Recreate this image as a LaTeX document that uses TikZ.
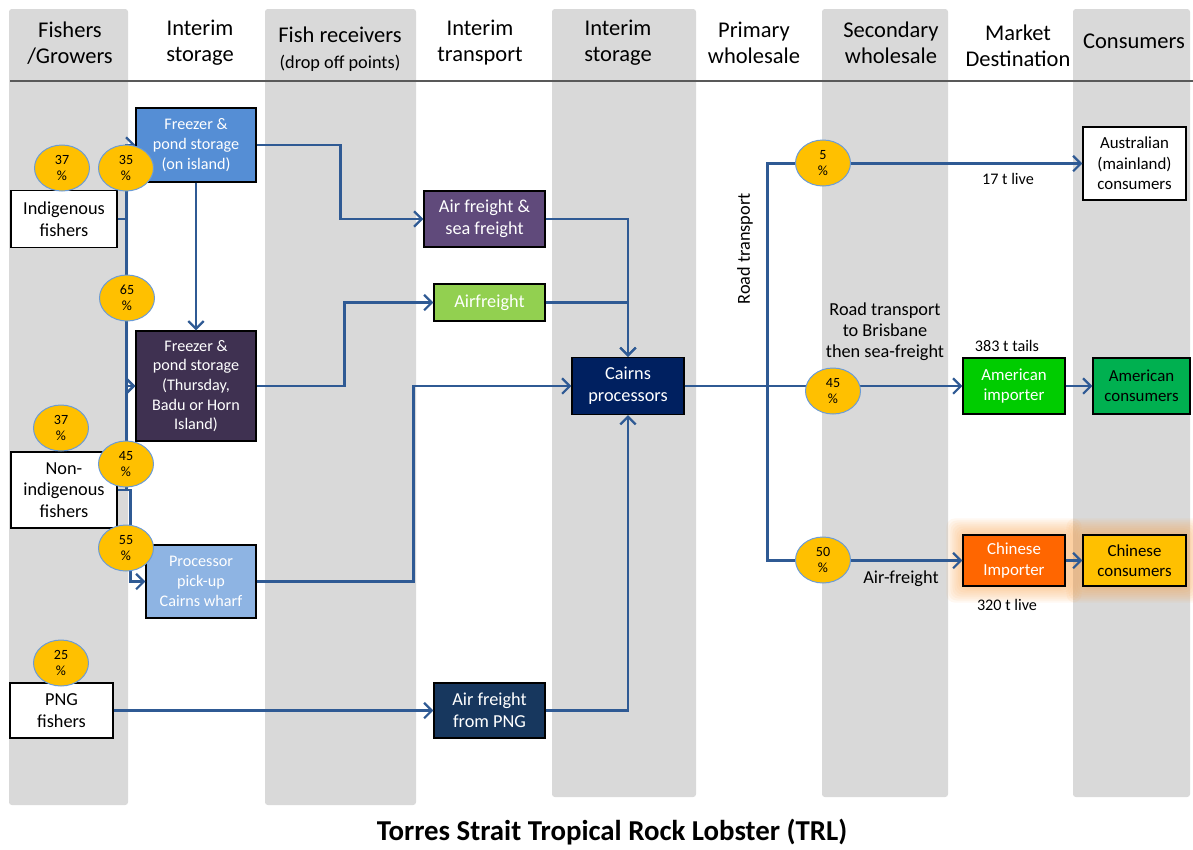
\documentclass[tikz,border=0pt]{standalone}
\usepackage{fontspec}
\setmainfont{Carlito}
\usepackage{tikz}
\definecolor{bandgray}{HTML}{D9D9D9}
\definecolor{flowblue}{HTML}{2F5A94}
\definecolor{pctyellow}{HTML}{FFC000}
\definecolor{pctline}{HTML}{6A9BD8}
\definecolor{islandblue}{HTML}{558ED5}
\definecolor{thursdark}{HTML}{3F3151}
\definecolor{wharfblue}{HTML}{8EB4E3}
\definecolor{seapurple}{HTML}{604A7B}
\definecolor{airgreen}{HTML}{92D050}
\definecolor{pngnavy}{HTML}{17375E}
\definecolor{cairnsnavy}{HTML}{002060}
\definecolor{usimport}{HTML}{00CC00}
\definecolor{usgreen}{HTML}{00B050}
\definecolor{cnorange}{HTML}{FF6600}
\definecolor{glow}{HTML}{F9A24B}
\usetikzlibrary{shapes.geometric, arrows.meta, calc, backgrounds}

\begin{document}
\begin{tikzpicture}[
    x=0.025cm, y=-0.025cm,
    band/.style={fill=bandgray, rounded corners=2pt},
    colhead/.style={align=center, font=\fontsize{16}{18.5}\selectfont},
    fisher/.style={rectangle, draw, fill=white, align=center, inner sep=0pt, line width=0.8pt, font=\fontsize{13}{15.5}\selectfont},
    store/.style={rectangle, draw, align=center, inner sep=0pt, line width=0.8pt, text=white, font=\fontsize{11.5}{14}\selectfont},
    market/.style={rectangle, draw, align=center, inner sep=0pt, line width=0.8pt, font=\fontsize{12}{14.5}\selectfont},
    pct/.style={ellipse, draw=pctline, line width=0.7pt, fill=pctyellow, minimum width=1.375cm, minimum height=1.15cm, inner sep=0pt, align=center, font=\fontsize{10}{11.5}\selectfont},
    flow/.style={draw=flowblue, line width=1.9pt, -{Straight Barb[length=5.5pt,width=11pt,line width=1.6pt]}},
    note/.style={align=center, font=\fontsize{13}{15}\selectfont},
    tonnes/.style={font=\fontsize{11.5}{14}\selectfont}
]
\useasboundingbox (0,0) rectangle (1193,850);

% swim lanes
\begin{scope}[on background layer]
\fill[band] (9,9) rectangle (128,805);
\fill[band] (265,9) rectangle (416,805);
\fill[band] (552,9) rectangle (696,797);
\fill[band] (822,9) rectangle (948,797);
\fill[band] (1073,9) rectangle (1190,797);
\end{scope}

% column headings
\node[colhead] (hfish) at (70,43) {Fishers\\/Growers};
\node[colhead] (hstore) at (200,43) {Interim\\storage};
\node[colhead] (hrecv) at (340,49) {Fish receivers\\{\fontsize{13}{15}\selectfont (drop off points)}};
\node[colhead] (htrans) at (480,43) {Interim\\transport};
\node[colhead] (hstore2) at (618,43) {Interim\\storage};
\node[colhead] (hprim) at (754,43) {Primary\\wholesale};
\node[colhead] (hsec) at (891,43) {Secondary\\wholesale};
\node[colhead] (hdest) at (1018,46) {Market\\Destination};
\node[colhead] (hcons) at (1134,41) {Consumers};
\draw[black!65, line width=1.1pt] (10,81) -- (1193,81);

% fishers
\node[fisher, minimum width=2.65cm, minimum height=1.425cm] (indig) at (64,219) {Indigenous\\fishers};
\node[fisher, minimum width=2.65cm, minimum height=1.9cm] (nonind) at (64,490) {Non-\\indigenous\\fishers};
\node[fisher, minimum width=2.575cm, minimum height=1.375cm] (png) at (61.5,710.5) {PNG\\fishers};

% storage and transport
\node[store, fill=islandblue, minimum width=3cm, minimum height=1.85cm] (frz1) at (196,145) {Freezer \&\\pond storage\\(on island)};
\node[store, fill=thursdark, minimum width=3cm, minimum height=2.75cm] (thurs) at (196,386) {Freezer \&\\pond storage\\(Thursday,\\Badu or Horn\\Island)};
\node[store, fill=wharfblue, minimum width=2.75cm, minimum height=1.825cm] (pickup) at (201,581.5) {Processor\\pick-up\\Cairns wharf};
\node[store, fill=seapurple, minimum width=3.025cm, minimum height=1.4cm, font=\fontsize{13}{15.5}\selectfont] (airsea) at (484.5,219) {Air freight \&\\sea freight};
\node[store, fill=airgreen, minimum width=2.775cm, minimum height=0.925cm, font=\fontsize{13}{15.5}\selectfont] (airfrt) at (489.5,302.5) {Airfreight};
\node[store, fill=pngnavy, minimum width=2.775cm, minimum height=1.375cm, font=\fontsize{13}{15.5}\selectfont] (airpng) at (489.5,710.5) {Air freight\\from PNG};
\node[store, fill=cairnsnavy, minimum width=2.8cm, minimum height=1.425cm, font=\fontsize{13}{15.5}\selectfont] (cairns) at (628,386) {Cairns\\processors};

% markets
\node[market, fill=white, minimum width=2.575cm, minimum height=1.825cm] (auscons) at (1134.5,163.5) {Australian\\(mainland)\\consumers};
\node[market, fill=usimport, text=white, minimum width=2.55cm, minimum height=1.4cm] (amimp) at (1014,386) {American\\importer};
\node[market, fill=usgreen, minimum width=2.425cm, minimum height=1.4cm] (amcons) at (1141.5,386) {American\\consumers};
\node[market, fill=cnorange, text=white, minimum width=2.55cm, minimum height=1.275cm] (chimp) at (1014,560.5) {Chinese\\Importer};
\node[market, fill=pctyellow, minimum width=2.575cm, minimum height=1.275cm] (chcons) at (1134.5,560.5) {Chinese\\consumers};

% glow round the Chinese boxes
\begin{scope}[on background layer]
\foreach \g in {2,4,...,16} {
  \fill[glow, opacity=0.08, rounded corners=6pt] ($(chimp.south west)+(-\g,\g)$) rectangle ($(chimp.north east)+(\g,-\g)$);
  \fill[glow, opacity=0.08, rounded corners=6pt] ($(chcons.south west)+(-\g,\g)$) rectangle ($(chcons.north east)+(\g,-\g)$);
}
\end{scope}

% connectors
\draw[flow] (indig.east) -- ++(9,0) |- (frz1.west);
\draw[flow] (indig.east) -- ++(9,0) |- (thurs.west);
\draw[flow] (nonind.east) -- ++(9,0) |- (thurs.west);
\draw[flow] (nonind.east) -- ++(13,0) |- (pickup.west);
\draw[flow] (png.east) -- (airpng.west);
\draw[flow] (frz1) -- (thurs);
\draw[flow] (frz1.east) -- ++(84,0) |- (airsea.west);
\draw[flow] (thurs.east) -- ++(88,0) |- (airfrt.west);
\draw[flow] (pickup.east) -- ++(157,0) |- (cairns.west);
\draw[flow] (airsea.east) -| (cairns.north);
\draw[flow] (airfrt.east) -| (cairns.north);
\draw[flow] (airpng.east) -| (cairns.south);
\draw[flow] (cairns.east) -- (amimp.west);
\draw[flow] (cairns.east) -- ++(83,0) |- (auscons.west);
\draw[flow] (cairns.east) -- ++(83,0) |- (chimp.west);
\draw[flow] (amimp) -- (amcons);
\draw[flow] (chimp) -- (chcons);

% shares
\node[pct] (p37a) at (62,168) {37\\\%};
\node[pct] (p35) at (126,168) {35\\\%};
\node[pct] (p65) at (127,298) {65\\\%};
\node[pct] (p37b) at (61,428) {37\\\%};
\node[pct] (p45a) at (126,464) {45\\\%};
\node[pct] (p55) at (126,548) {55\\\%};
\node[pct] (p25) at (61,663) {25\\\%};
\node[pct] (p5) at (823,163) {5\\\%};
\node[pct] (p45b) at (833,391) {45\\\%};
\node[pct] (p50) at (823,560) {50\\\%};

% route labels
\node[note, rotate=90] (road) at (745,249) {Road transport};
\node[note] (brisb) at (885,332) {Road transport\\to Brisbane\\then sea-freight};
\node[note] (airf) at (901,579) {Air-freight};
\node[tonnes] (t17) at (1008,179) {17 t live};
\node[tonnes] (t383) at (1007,346) {383 t tails};
\node[tonnes] (t320) at (1007,605) {320 t live};

\node[font=\bfseries\fontsize{20.5}{24}\selectfont] (title) at (612,832) {Torres Strait Tropical Rock Lobster (TRL)};

\end{tikzpicture}
\end{document}
